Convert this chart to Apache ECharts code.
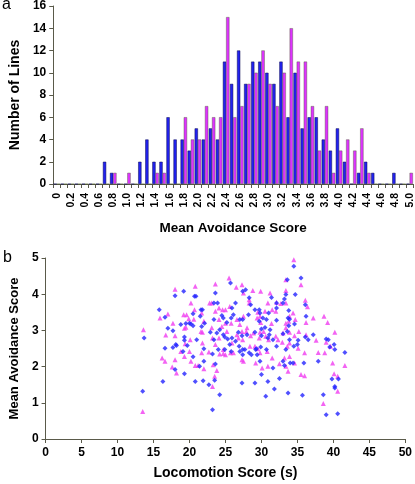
<!DOCTYPE html>
<html><head><meta charset="utf-8">
<script src="https://cdn.jsdelivr.net/npm/echarts@6/dist/echarts.min.js"></script>
<style>html,body{margin:0;padding:0;background:#fff}#c{width:415px;height:484px}</style>
</head><body><div id="c"></div>
<script>
const categories = ['0','0.1','0.2','0.3','0.4','0.5','0.6','0.7','0.8','0.9','1.0','1.1','1.2','1.3','1.4','1.5','1.6','1.7','1.8','1.9','2.0','2.1','2.2','2.3','2.4','2.5','2.6','2.7','2.8','2.9','3.0','3.1','3.2','3.3','3.4','3.5','3.6','3.7','3.8','3.9','4.0','4.1','4.2','4.3','4.4','4.5','4.6','4.7','4.8','4.9','5.0'];
const blueCounts = [0,0,0,0,0,0,0,2,1,0,0,0,2,4,2,2,6,4,4,3,5,4,5,4,11,9,12,9,11,11,10,9,11,6,10,5,6,6,4,3,5,2,0,1,2,1,0,0,1,0,0];
const magentaCounts = [0,0,0,0,0,0,0,0,1,0,1,0,0,0,1,1,0,0,6,4,4,7,6,6,15,6,7,9,10,12,9,7,10,14,11,11,7,3,7,1,3,4,3,5,1,0,0,0,0,0,1];
const histYTicks = {min:0, max:16, interval:2};
const scatterXTicks = {min:0, max:50, interval:5};
const scatterYTicks = {min:0, max:5, interval:1};

const bluePoints = [[13.7,2.79],[13.5,1.32],[15.8,3.57],[16.6,3.36],[17.0,3.06],[16.6,2.51],[16.3,1.59],[18.0,3.96],[17.7,2.99],[18.1,2.61],[17.7,2.53],[18.2,2.58],[18.0,1.92],[18.8,3.16],[19.2,4.08],[19.5,3.19],[19.3,2.82],[19.3,2.73],[19.7,2.58],[19.1,2.42],[19.3,1.80],[20.0,3.20],[20.2,3.18],[20.5,3.13],[20.5,3.46],[20.7,3.94],[20.9,3.94],[21.0,2.74],[20.5,2.27],[20.8,1.59],[21.4,2.01],[21.6,3.57],[21.8,3.57],[21.5,3.39],[21.7,3.11],[22.0,2.49],[22.0,2.15],[21.9,1.61],[22.1,3.20],[22.7,1.50],[22.9,2.95],
[23.2,0.81],[23.2,2.35],[23.4,2.74],[23.4,3.30],[23.4,3.76],[23.6,4.03],[23.8,2.93],[23.6,2.07],[23.5,1.62],[23.9,3.76],[24.2,3.02],[24.0,2.47],[24.2,1.22],[24.5,3.41],[24.7,3.34],[24.7,2.88],[24.9,2.82],[24.9,2.47],[25.2,3.22],[25.3,2.76],[25.7,4.31],[25.9,3.62],[25.8,3.34],[25.9,2.79],[25.6,2.61],[25.8,2.42],[26.4,3.76],[26.1,3.43],[26.4,2.70],[26.8,2.95],[26.9,2.56],[27.0,3.30],[27.4,4.08],[27.8,4.12],[27.4,3.30],[27.3,2.85],[27.4,2.47],[27.0,2.42],[27.4,2.33],[27.3,1.55],[27.7,2.47],[28.0,2.88],[28.2,3.43],[28.3,3.90],[28.5,3.71],[28.3,2.38],[28.6,2.33],[29.1,2.95],[29.1,3.57],[29.1,1.55],[29.2,2.47],[29.4,2.33],[29.3,2.49],[29.7,3.57],[29.7,3.25],[29.8,3.48],[30.0,3.04],[30.0,2.85],[29.9,2.54],[29.8,2.15],[30.0,1.78],[30.2,3.34],[30.5,3.08],[30.7,3.30],[30.7,2.47],[30.6,1.18],[30.9,1.59],[31.0,3.48],[30.9,2.79],[31.1,2.88],[31.4,3.91],[31.2,3.02],[31.6,2.74],[31.6,1.96],[31.8,1.38],[32.1,3.76],[32.1,3.62],[32.1,3.28],[32.1,2.56],[32.5,1.67],[33.0,3.76],[33.0,2.91],[33.0,2.15],[33.6,4.40],[33.4,3.99],[33.2,3.87],[33.6,2.97],[33.4,2.47],[33.2,2.03],[33.8,3.55],[33.7,3.34],[33.9,3.31],[33.8,3.13],[33.9,2.74],[33.7,1.27],[34.0,2.10],[34.5,4.77],[34.7,3.99],[34.6,3.18],[34.5,2.56],[34.4,2.10],[35.1,2.73],[35.5,4.45],[35.0,2.61],[35.7,1.21],[35.9,2.10],[36.1,3.71],[36.2,3.39],[36.1,2.82],[36.5,2.74],[37.2,2.88],[37.9,2.15],[39.0,2.76],[39.3,2.74],[39.5,2.54],[39.8,1.66],[38.6,1.22],[39.0,0.67],[40.1,2.61],[40.2,2.47],[40.2,1.45],[40.2,1.41],[40.7,1.66],[40.6,0.70],[41.6,2.39]];

const magentaPoints = [[13.6,3.02],[13.5,0.76],[15.9,3.34],[17.0,3.45],[16.7,2.87],[16.2,2.24],[16.6,2.15],[18.0,4.14],[17.7,3.20],[18.0,2.85],[17.6,1.99],[18.2,1.82],[18.0,2.19],[18.8,2.42],[19.2,3.43],[19.6,3.43],[19.3,3.06],[19.5,3.09],[19.4,2.63],[19.3,2.28],[19.9,3.32],[20.1,2.74],[20.0,2.42],[20.2,2.15],[20.2,3.76],[20.8,4.22],[20.7,3.57],[20.6,3.31],[20.8,2.03],[21.2,2.03],[21.7,3.48],[21.6,2.97],[21.8,2.95],[21.8,2.65],[21.7,2.38],[22.0,1.94],[22.0,3.25],[22.8,3.76],[22.7,2.40],
[23.2,1.45],[23.3,2.05],[23.2,2.79],[23.1,3.07],[23.1,3.76],[23.6,4.28],[23.6,3.53],[23.6,2.61],[23.8,1.89],[23.5,1.73],[24.1,3.62],[24.1,3.30],[24.1,2.79],[24.2,2.35],[24.6,3.57],[24.5,3.11],[24.7,2.47],[24.7,2.36],[25.0,3.57],[25.0,3.20],[25.2,2.97],[25.0,2.33],[25.5,4.45],[25.6,3.66],[25.8,3.20],[25.9,2.65],[25.7,2.38],[26.1,2.38],[26.5,4.19],[26.6,3.30],[26.6,2.88],[26.8,2.79],[27.0,3.16],[27.3,4.26],[27.5,4.03],[27.5,3.39],[27.3,2.97],[27.4,2.74],[27.3,2.19],[27.5,2.15],[27.9,2.97],[28.0,3.07],[28.3,3.85],[28.3,3.76],[28.4,2.56],[28.5,2.85],[28.8,4.10],[28.9,2.93],[29.1,2.56],[29.2,2.10],[29.5,2.49],[29.5,3.50],[29.4,3.34],[29.9,4.08],[29.8,3.39],[29.9,3.22],[29.8,2.95],[29.7,2.79],[29.8,2.38],[30.1,1.96],[30.5,3.53],[30.3,2.97],[30.6,2.84],[30.8,2.42],[30.9,2.01],[30.9,3.76],[31.0,2.74],[31.2,4.03],[31.5,3.57],[31.4,3.19],[31.5,2.24],[32.0,3.53],[32.1,3.78],[32.0,2.84],[32.3,2.74],[32.5,2.08],[32.7,3.74],[33.0,2.93],[32.9,2.67],[33.2,2.24],[33.4,4.40],[33.4,4.10],[33.4,3.76],[33.4,3.20],[33.4,3.07],[33.6,2.56],[33.4,2.01],[33.7,1.87],[33.9,3.39],[33.8,3.25],[33.9,2.95],[33.9,2.65],[33.9,2.28],[34.5,4.95],[34.4,3.48],[34.7,3.30],[34.6,2.85],[34.6,2.10],[35.2,2.97],[35.5,4.26],[35.1,2.51],[35.5,1.78],[36.0,1.75],[36.1,3.83],[36.4,3.65],[36.2,3.22],[36.2,2.88],[36.0,2.38],[37.2,3.34],[37.6,2.73],[37.9,2.39],[38.7,3.39],[39.2,3.22],[39.0,2.67],[39.6,2.56],[38.8,2.38],[39.9,2.10],[40.1,1.80],[38.6,0.98],[40.2,2.95],[40.6,1.73],[40.6,1.32],[41.6,2.03]];

const FONT = 'Arial, "Liberation Sans", sans-serif';
const axisLineCol = '#5a5a4a';
const labelStyle = {color:'#000', fontWeight:'bold', fontFamily:FONT};
const chart = echarts.init(document.getElementById('c'), null, {renderer:'canvas'});
chart.setOption({
  animation:false,
  backgroundColor:'#fff',
  textStyle:{fontFamily:FONT},
  graphic:[
    {type:'text', x:2, y:5, style:{text:'a', fontSize:16, fontFamily:FONT, fill:'#000', verticalAlign:'middle'}},
    {type:'text', x:3, y:258, style:{text:'b', fontSize:16, fontFamily:FONT, fill:'#000', verticalAlign:'middle'}}
  ],
  grid:[
    {left:42, top:6, width:372, height:178},
    {left:42, top:258, width:366, height:181}
  ],
  xAxis:[
    {type:'category', gridIndex:0, data:categories, boundaryGap:true,
     axisLine:{lineStyle:{color:axisLineCol, width:1}},
     axisTick:{show:true, interval:0, length:4, lineStyle:{color:axisLineCol}},
     axisLabel:Object.assign({interval:1, rotate:90, fontSize:10.5, margin:9}, labelStyle),
     splitLine:{show:false},
     name:'Mean Avoidance Score', nameLocation:'middle', nameGap:37,
     nameTextStyle:{fontSize:13.5, fontWeight:'bold', color:'#000', fontFamily:FONT}},
    {type:'value', gridIndex:1, min:scatterXTicks.min, max:scatterXTicks.max, interval:scatterXTicks.interval,
     axisLine:{show:true, lineStyle:{color:axisLineCol}},
     axisTick:{show:true, length:4, lineStyle:{color:axisLineCol}},
     axisLabel:Object.assign({fontSize:12, margin:8}, labelStyle),
     splitLine:{show:false},
     name:'Locomotion Score (s)', nameLocation:'middle', nameGap:27,
     nameTextStyle:{fontSize:14, fontWeight:'bold', color:'#000', fontFamily:FONT}}
  ],
  yAxis:[
    {type:'value', gridIndex:0, min:histYTicks.min, max:histYTicks.max, interval:histYTicks.interval,
     axisLine:{show:true, lineStyle:{color:axisLineCol}},
     axisTick:{show:true, length:4, lineStyle:{color:axisLineCol}},
     axisLabel:Object.assign({fontSize:12, margin:7}, labelStyle),
     splitLine:{show:false},
     name:'Number of Lines', nameLocation:'middle', nameGap:24,
     nameTextStyle:{fontSize:14, fontWeight:'bold', color:'#000', fontFamily:FONT}},
    {type:'value', gridIndex:1, min:scatterYTicks.min, max:scatterYTicks.max, interval:scatterYTicks.interval,
     axisLine:{show:true, lineStyle:{color:axisLineCol}},
     axisTick:{show:true, length:4, lineStyle:{color:axisLineCol}},
     axisLabel:Object.assign({fontSize:12, margin:7}, labelStyle),
     splitLine:{show:false},
     name:'Mean Avoidance Score', nameLocation:'middle', nameGap:24,
     nameTextStyle:{fontSize:13, fontWeight:'bold', color:'#000', fontFamily:FONT}}
  ],
  series:[
    {type:'bar', xAxisIndex:0, yAxisIndex:0, data:blueCounts, barGap:'0%', barCategoryGap:'8%',
     itemStyle:{color:'#2222f0', borderColor:'#0a0a50', borderWidth:0.5}},
    {type:'bar', xAxisIndex:0, yAxisIndex:0, data:magentaCounts, barGap:'0%', barCategoryGap:'8%',
     itemStyle:{color:'#dd33ff', borderColor:'#4a5a2a', borderWidth:0.4}},
    {type:'scatter', xAxisIndex:1, yAxisIndex:1, data:magentaPoints, symbol:'triangle', symbolSize:5,
     itemStyle:{color:'#f03cf0'}},
    {type:'scatter', xAxisIndex:1, yAxisIndex:1, data:bluePoints, symbol:'diamond', symbolSize:5,
     itemStyle:{color:'#2424ff'}}
  ]
});
</script>
</body></html>
